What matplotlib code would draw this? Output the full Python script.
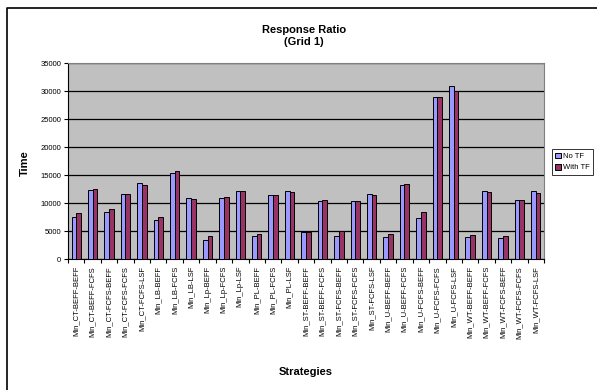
import numpy as np
import matplotlib.pyplot as plt
from matplotlib.lines import Line2D
from matplotlib.patches import Patch

plt.rcParams['font.family'] = ['Liberation Sans', 'DejaVu Sans']

strategies = ["Min_CT-BEFF-BEFF", "Min_CT-BEFF-FCFS", "Min_CT-FCFS-BEFF", "Min_CT-FCFS-FCFS",
              "Min_CT-FCFS-LSF", "Min_LB-BEFF", "Min_LB-FCFS", "Min_LB-LSF",
              "Min_Lp-BEFF", "Min_Lp-FCFS", "Min_Lp-LSF", "Min_PL-BEFF", "Min_PL-FCFS",
              "Min_PL-LSF", "Min_ST-BEFF-BEFF", "Min_ST-BEFF-FCFS", "Min_ST-FCFS-BEFF",
              "Min_ST-FCFS-FCFS", "Min_ST-FCFS-LSF", "Min_U-BEFF-BEFF", "Min_U-BEFF-FCFS",
              "Min_U-FCFS-BEFF", "Min_U-FCFS-FCFS", "Min_U-FCFS-LSF", "Min_WT-BEFF-BEFF",
              "Min_WT-BEFF-FCFS", "Min_WT-FCFS-BEFF", "Min_WT-FCFS-FCFS", "Min_WT-FCFS-LSF"]
no_tf = [7530, 12280, 8480, 11630, 13640, 6880, 15360, 10850, 3440, 10850, 12100, 4090, 11390,
         12160, 4800, 10320, 4090, 10320, 11680, 3860, 13230, 7300, 29000, 30900, 3970,
         12100, 3680, 10620, 12100]
with_tf = [8190, 12460, 8960, 11630, 13230, 7530, 15660, 10680, 4090, 11030, 12100, 4450, 11390,
           12040, 4740, 10500, 4980, 10320, 11450, 4510, 13350, 8360, 28880, 29950, 4210,
           11920, 4090, 10620, 11800]

fig = plt.figure(figsize=(5.97, 3.9), dpi=100)
# outer chart frame - only left and top edges show in the picture
fx, fy = 7/597, 1 - 8/390
fig.lines.append(Line2D([fx, fx, 1.01], [-0.01, fy, fy], transform=fig.transFigure,
                        color='black', linewidth=1.2))
ax = fig.add_axes([68/597, 1 - 259/390, 476/597, 196/390])
ax.set_facecolor('#C0C0C0')

x = np.arange(len(strategies))
w = 1/3.5
ax.bar(x - w/2, no_tf, w, color='#9999FF', edgecolor='black', linewidth=0.7, zorder=3)
ax.bar(x + w/2, with_tf, w, color='#993366', edgecolor='black', linewidth=0.7, zorder=3)

ax.set_xlim(-0.5, len(strategies) - 0.5)
ax.set_ylim(0, 35000)
ax.set_yticks(range(0, 35001, 5000))
ax.tick_params(axis='y', labelsize=5.5, length=3, width=0.8, pad=2)
ax.yaxis.grid(True, color='black', linewidth=0.9, zorder=1)
ax.set_axisbelow(True)

ax.set_xticks(x)
ax.set_xticklabels(strategies, rotation=90, fontsize=5.5)
ax.tick_params(axis='x', length=0, pad=5)
ax.set_xticks(np.arange(-0.5, len(strategies)), minor=True)
ax.tick_params(axis='x', which='minor', length=3, width=0.8)

for s in ['top', 'right']:
    ax.spines[s].set_color('#808080')
for s in ['left', 'bottom']:
    ax.spines[s].set_color('black')

fig.text(304/597, 1 - 36/390, "Response Ratio\n(Grid 1)", ha='center', va='center',
         fontsize=8, fontweight='bold', linespacing=1.35)
fig.text(25/597, 1 - 163/390, "Time", rotation=90, ha='center', va='center',
         fontsize=8, fontweight='bold')
fig.text(306/597, 1 - 372/390, "Strategies", ha='center', va='center',
         fontsize=8, fontweight='bold')

handles = [Patch(facecolor='#9999FF', edgecolor='black', linewidth=0.7),
           Patch(facecolor='#993366', edgecolor='black', linewidth=0.7)]
leg = fig.legend(handles, ["No TF", "With TF"], loc='center left',
                 bbox_to_anchor=(552/597, 1 - 162/390), fontsize=5.5, frameon=True,
                 fancybox=False, edgecolor='black', handlelength=0.8, handleheight=0.8,
                 handletextpad=0.3, borderpad=0.4, labelspacing=0.5, borderaxespad=0)
leg.get_frame().set_linewidth(0.7)

fig.savefig("out.png", dpi=100)
